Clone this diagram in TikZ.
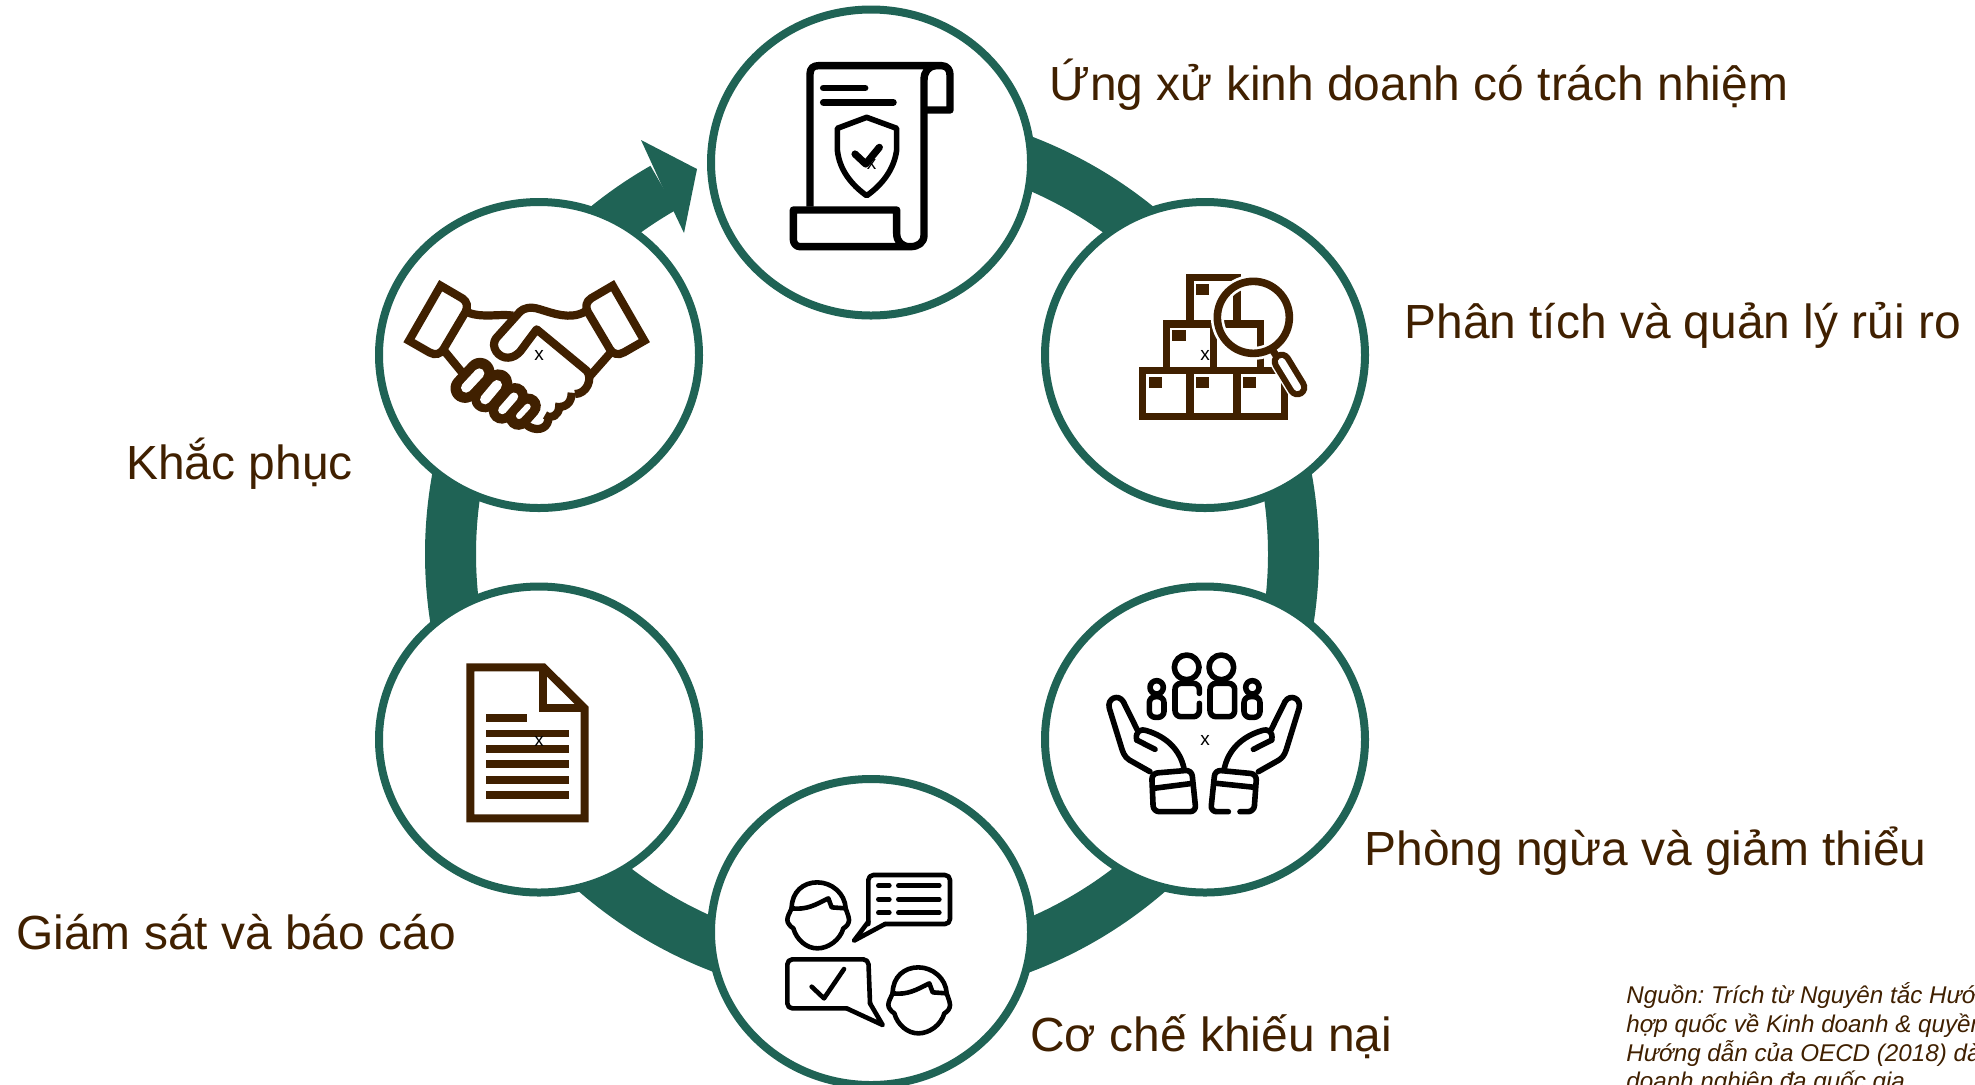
\documentclass[tikz,border=0pt]{standalone}
\usepackage{fontspec}
\setmainfont{Liberation Sans}
\usetikzlibrary{shapes.geometric}
\definecolor{teal}{HTML}{1F6355}
\definecolor{bark}{HTML}{402000}
\tikzset{
  stage/.style={ellipse,draw=teal,fill=white,line width=4pt,inner sep=0pt,outer sep=0pt,minimum width=160pt,minimum height=153pt},
  ringarc/.style={draw=teal,line width=25.5pt},
  caption/.style={text=bark,font=\fontsize{23.95}{28}\selectfont,anchor=base west,inner sep=0pt},
  placeholder/.style={text=black,font=\fontsize{9.5}{11}\selectfont,inner sep=0pt},
  icon/.style={x=.16667pt,y=-.16667pt,line join=miter,line cap=butt},
}
\begin{document}
\begin{tikzpicture}[x=.5pt,y=-.5pt]
\frenchspacing
\useasboundingbox (0,0) rectangle (1975,1084);
\fill[white] (0,0) rectangle (1975,1084);
\def\R{210.75pt}
\coordinate (hub) at (872,554);
\coordinate (r1) at ([shift={(90:\R)}]hub);
\coordinate (r2) at ([shift={(30:\R)}]hub);
\coordinate (r3) at ([shift={(-30:\R)}]hub);
\coordinate (r4) at ([shift={(-90:\R)}]hub);
\coordinate (r5) at ([shift={(-150:\R)}]hub);
\coordinate (r6) at ([shift={(150:\R)}]hub);
\draw[ringarc] (r1) arc[start angle=90,delta angle=-60,radius=\R];
\draw[ringarc] (r2) arc[start angle=30,delta angle=-60,radius=\R];
\draw[ringarc] (r3) arc[start angle=-30,delta angle=-60,radius=\R];
\draw[ringarc] (r4) arc[start angle=-90,delta angle=-60,radius=\R];
\draw[ringarc] (r5) arc[start angle=-150,delta angle=-60,radius=\R];
\draw[ringarc] (r6) arc[start angle=150,delta angle=-30.3,radius=\R];
% arrow head
\coordinate (tip) at (697,169);
\coordinate (barbA) at (641,140);
\coordinate (barbB) at (684,233);
\coordinate (notchA) at (652,164);
\coordinate (notchB) at (673,210);
\fill[teal] (barbA) -- (tip) -- (barbB) -- (notchB) -- (notchA) -- cycle;
% circles
\node[stage] (c1) at (871,162.5) {};
\node[stage] (c2) at (1205,355) {};
\node[stage] (c3) at (1205,739.5) {};
\node[stage] (c4) at (871,932) {};
\node[stage] (c5) at (539,739.5) {};
\node[stage] (c6) at (539,355) {};

% ---- icon 1: scroll and shield
\begin{scope}[shift={(700,0)},icon,black,line width=3.7pt,line join=round]
\draw (330,620) -- (330,222) .. controls (330,205) and (340,197) .. (355,197) -- (725,197) .. controls (742,197) and (750,210) .. (750,225) -- (750,330) -- (672,330);
\draw (672,240) .. controls (672,215) and (685,200) .. (705,197);
\draw (672,240) -- (672,705) .. controls (672,728) and (655,740) .. (630,740) -- (300,740) .. controls (288,740) and (280,730) .. (280,718) -- (280,630) -- (590,630) -- (590,700) .. controls (590,725) and (605,740) .. (630,740);
\draw[line cap=round,line width=3.4pt] (370,264) -- (495,264);
\draw[line cap=round,line width=3.4pt] (370,307) -- (580,307);
\draw[line width=2.8pt] (500,352) -- (412,385) -- (412,450) .. controls (418,510) and (455,555) .. (500,587) .. controls (545,555) and (582,510) .. (590,450) -- (590,385) -- cycle;
\draw[line cap=round,line width=3.6pt] (465,462) -- (497,492) -- (538,442);
\end{scope}

% ---- icon 2: boxes and magnifier
\begin{scope}[shift={(1040,190)},icon,bark,line width=3.6pt]
\draw (308,542) rectangle (450,680);
\draw (450,542) rectangle (591,680);
\draw (591,542) rectangle (733,680);
\draw (379,542) -- (379,402) -- (662,402) -- (662,542);
\draw (520,402) -- (520,542);
\draw (450,402) -- (450,262) -- (602,262);
\draw (591,262) -- (591,402);
\fill (327,560) rectangle (366,593);
\fill (468,560) rectangle (507,593);
\fill (610,560) rectangle (649,593);
\fill (397,421) rectangle (437,454);
\fill (468,281) rectangle (507,314);
\draw[white,line width=6.5pt] (640,382) circle[radius=108];
\draw[white,line width=11.5pt,line cap=round] (725,515) -- (772,592);
\draw[line width=3.8pt] (640,382) circle[radius=108];
\draw[line width=3.6pt] (696,478) -- (716,508);
\draw[line width=10pt,line cap=round] (725,515) -- (772,592);
\draw[white,line width=3.8pt,line cap=round] (725,515) -- (772,592);
\end{scope}

% ---- icon 3: hands and people
\begin{scope}[shift={(1040,580)},icon,black,line width=2.8pt,line cap=round,line join=round]
\draw (440,262) circle[radius=37];
\draw (544,262) circle[radius=37];
\draw (350,322) circle[radius=20];
\draw (637,322) circle[radius=20];
\draw[rounded corners=3pt] (478,340) -- (478,310) -- (405,310) -- (405,410) -- (478,410) -- (478,370);
\draw[rounded corners=3pt] (510,310) rectangle (584,410);
\draw[rounded corners=3pt] (328,350) rectangle (372,412);
\draw[rounded corners=3pt] (612,350) rectangle (660,412);
\def\handpath{
  \draw (330,575) -- (268,540) .. controls (252,530) and (248,515) .. (242,495) -- (208,385) .. controls (200,355) and (235,340) .. (250,365) -- (292,450);
  \draw (290,480) .. controls (285,455) and (300,445) .. (320,452) .. controls (380,470) and (420,510) .. (432,565);
  \draw (290,480) -- (345,508);
}
\handpath
\begin{scope}[shift={(985,0)},x=-.16667pt]
\handpath
\end{scope}
\draw[rounded corners=3pt] (335,580) -- (455,570) -- (468,695) -- (340,695) -- cycle;
\draw (340,625) -- (458,610);
\draw[rounded corners=3pt] (565,695) -- (512,695) -- (525,570) -- (650,582) -- (642,695) -- (600,695);
\draw (530,610) -- (645,622);
\end{scope}

% ---- icon 4: two people talking
\begin{scope}[shift={(700,770)},icon,black,line width=2.3pt,line cap=round,line join=round]
\def\headpath{
  \draw (275,415) .. controls (275,365) and (310,337) .. (352,337) .. controls (395,337) and (435,370) .. (437,415);
  \draw (275,415) .. controls (268,430) and (262,440) .. (262,450) .. controls (262,460) and (272,470) .. (280,475) .. controls (290,510) and (320,535) .. (352,535) .. controls (385,535) and (420,510) .. (430,475) .. controls (440,470) and (447,460) .. (447,450) .. controls (447,440) and (440,425) .. (437,415);
  \draw (275,415) .. controls (320,420) and (345,405) .. (385,385) -- (395,412) -- (437,415);
}
\headpath
\begin{scope}[shift={(303,255)}]
\headpath
\end{scope}
\draw[rounded corners=2.5pt] (555,462) -- (750,462) -- (750,315) -- (505,315) -- (505,462);
\draw (505,455) -- (462,512) -- (555,462);
\foreach \yy in {347,388,428}{
  \draw (535,\yy) -- (568,\yy);
  \draw (595,\yy) -- (718,\yy);
}
\draw[rounded corners=2.5pt] (440,715) -- (262,715) -- (262,568) -- (505,568) -- (510,700);
\draw (510,700) -- (548,765) -- (440,715);
\draw (335,650) -- (372,685) -- (432,597);
\end{scope}

% ---- icon 5: document
\begin{scope}[shift={(370,580)},icon,bark,line width=4pt]
\draw (301,262) -- (520,262) -- (644,385) -- (644,715) -- (301,715) -- cycle;
\draw (520,262) -- (520,385) -- (644,385);
\fill (348,402) rectangle (472,425);
\foreach \yy in {449,495,541,588,634}{
  \fill (348,\yy) rectangle (597,\yy+23);
}
\end{scope}

% ---- icon 6: handshake
\begin{scope}[shift={(370,120)},icon,bark,line width=4.1pt,line join=round]
\def\cuffpath{
  \draw[line join=miter] (212,497) -- (117,662) -- (178,697) .. controls (195,707) and (212,702) .. (220,688) -- (287,575) .. controls (294,560) and (292,545) .. (277,535) -- cycle;
}
\cuffpath
\begin{scope}[shift={(940,0)},x=-.16667pt]
\cuffpath
\end{scope}
\draw (295,578) .. controls (340,595) and (390,580) .. (430,587);
\draw (645,575) .. controls (600,600) and (550,580) .. (510,568) .. controls (480,558) and (460,565) .. (450,575) -- (378,655) .. controls (360,680) and (385,715) .. (415,713) .. controls (430,712) and (440,705) .. (450,695) -- (500,628) -- (650,752) .. controls (670,775) and (650,822) .. (615,822);
\draw (720,700) -- (660,768);
\draw (225,695) -- (280,762);
\draw (605,818) .. controls (605,850) and (585,865) .. (555,860);
\draw (568,862) .. controls (565,885) and (545,900) .. (525,885);
\draw (535,900) .. controls (530,930) and (495,935) .. (470,915);
\draw[line cap=round,line width=14.5pt] (285,805) -- (330,757);
\draw[line cap=round,line width=14pt] (345,835) -- (385,790);
\draw[line cap=round,line width=13pt] (395,872) -- (435,828);
\draw[line cap=round,line width=12.5pt] (445,892) -- (475,858);
\draw[white,line cap=round,line width=5pt] (288,803) -- (328,760);
\draw[white,line cap=round,line width=5pt] (345,838) -- (381,795);
\draw[white,line cap=round,line width=4.2pt] (397,870) -- (432,830);
\draw[white,line cap=round,line width=3pt] (447,888) -- (473,860);
\end{scope}

% placeholder marks
\node[placeholder] (x1) at (871.5,164) {x};
\node[placeholder] (x2) at (1205,355) {x};
\node[placeholder] (x3) at (1205,740) {x};
\node[placeholder] (x5) at (539,741) {x};
\node[placeholder] (x6) at (539,355) {x};

% labels
\node[caption] (t1) at (1049,100) {Ứng xử kinh doanh có trách nhiệm};
\node[caption] (t2) at (1404,338) {Phân tích và quản lý rủi ro};
\node[caption] (t3) at (1364,865) {Phòng ngừa và giảm thiểu};
\node[caption] (t4) at (1030,1051) {Cơ chế khiếu nại};
\node[caption] (t5) at (16,949) {Giám sát và báo cáo};
\node[caption] (t6) at (126,479) {Khắc phục};
\node[text=bark,font=\fontsize{12.1}{14.4}\selectfont\itshape,anchor=north west,align=left,inner sep=0pt] (src) at (1626,982) {Nguồn: Trích từ Nguyên tắc Hướ\\hợp quốc về Kinh doanh \& quyền\\Hướng dẫn của OECD (2018) dà\\doanh nghiệp đa quốc gia};
\end{tikzpicture}
\end{document}
